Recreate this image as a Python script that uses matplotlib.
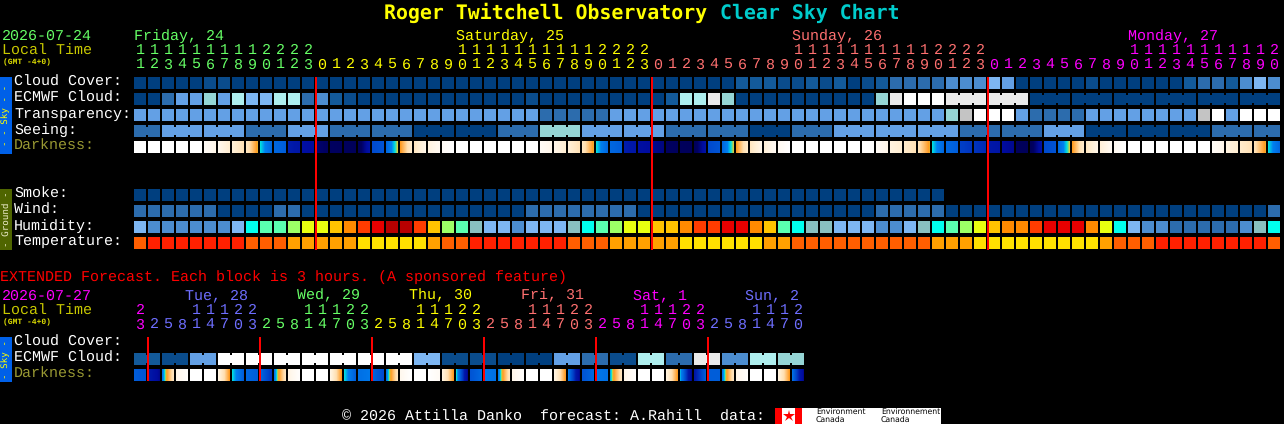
import numpy as np
import matplotlib
matplotlib.use("Agg")
import matplotlib.pyplot as plt
from matplotlib.colors import LinearSegmentedColormap

plt.rcParams['text.hinting'] = 'none'

# Colour tables (index = level stored in the rows below)
cloud_colors = ['#003f7f', '#0a4c8c', '#135a9a', '#2c6cad', '#4c8dd0', '#63a0e5',
                '#7db6f2', '#95d5d5', '#aeeeee', '#eaeaea', '#ffffff', '#c4c4c4']
humidity_colors = ['#2c6cad', '#4c8dd0', '#7db6f2', '#88c0c0', '#00ffee', '#5affb0',
                   '#9cff66', '#e8ff10', '#ffc400', '#ff8a00', '#ff3c00', '#e80000', '#b80000']
temp_colors = ['#ff2000', '#ff5e00', '#ffa000', '#ffe000']
dark_anchors = [(0.00, '#ffffff'), (0.10, '#fff8ee'), (0.20, '#ffeed2'), (0.30, '#ffdfb0'),
                (0.44, '#ff9a20'), (0.47, '#d0d040'), (0.50, '#00e0e0'), (0.54, '#0080f0'),
                (0.60, '#0068e0'), (0.68, '#0040c8'), (0.75, '#0018a8'), (0.82, '#000ca0'),
                (0.90, '#000060'), (1.00, '#000050')]

# Main forecast, one value per hour (82 hours)
hours = [11, 12, 13, 14, 15, 16, 17, 18, 19, 20, 21, 22, 23,
         0, 1, 2, 3, 4, 5, 6, 7, 8, 9, 10, 11, 12, 13, 14, 15, 16, 17, 18, 19, 20, 21, 22, 23,
         0, 1, 2, 3, 4, 5, 6, 7, 8, 9, 10, 11, 12, 13, 14, 15, 16, 17, 18, 19, 20, 21, 22, 23,
         0, 1, 2, 3, 4, 5, 6, 7, 8, 9, 10, 11, 12, 13, 14, 15, 16, 17, 18, 19, 20]
day_names = ['Friday, 24', 'Saturday, 25', 'Sunday, 26', 'Monday, 27']
day_cols = [0, 23, 47, 71]
day_colors = ['#66ff66', '#ffff00', '#ff7070', '#ff00ff']
midnights = [13, 37, 61]

cloud = [0, 0, 0, 0, 0, 1, 1, 0, 0, 0, 0, 0, 0, 0, 0, 0, 0, 0, 0, 0, 0,
         0, 0, 0, 0, 0, 0, 0, 0, 0, 0, 0, 0, 0, 0, 0, 0, 0, 0, 0, 0, 0, 0,
         2, 2, 2, 1, 1, 2, 1, 2, 0, 1, 2, 3, 3, 3, 3, 4, 4, 4, 6, 5,
         0, 0, 0, 0, 0, 1, 0, 0, 0, 0, 0, 0, 2, 3, 3, 2, 4, 6, 4]
ecmwf = [0, 0, 3, 5, 5, 7, 5, 8, 6, 6, 8, 8, 3, 4, 2, 1, 0, 0, 0, 0, 0,
         0, 0, 0, 0, 0, 0, 0, 1, 0, 0, 0, 0, 0, 0, 0, 0, 0, 2, 8, 8, 9, 7,
         0, 0, 0, 0, 0, 0, 0, 0, 0, 0, 7, 9, 10, 10, 10,
         9, 9, 0, 0, 0, 0, 0, 0]
ecmwf_sizes = [1] * 58 + [3] * 8
transparency = [5] * 29 + [3, 3, 3, 3, 3] + [5] * 24 + [7, 11, 10, 10, 10, 5, 3, 3, 3, 3] + \
               [5] * 8 + [11, 10, 5, 10, 10, 10]
seeing = [3, 5, 5, 3, 5, 3, 3, 0, 0, 3, 7, 5, 5, 3, 3, 0, 3, 5, 5, 5, 3, 3, 5, 0, 0, 0, 3, 3]
seeing_sizes = [2] + [3] * 26 + [2]
dark_left = [0, 0, 0, 0, 0, .05, .10, .18, .25, .50, .60, .74, .80, .88, .90, .92, .94, .66, .60, .44, .25,
             .15, .05, 0, 0, 0, 0, 0, 0, .05, .12, .18, .25, .50, .60, .74, .80, .84, .90, .92, .94, .66, .60,
             .44, .25, .18, .08, 0, 0, 0, 0, 0, 0, .05, .15, .22, .28, .50, .60, .68, .70, .75, .82, .92, .94,
             .66, .60, .44, .25, .18, .08, 0, 0, 0, 0, 0, 0, .05, .15, .22, .28, .50]
dark_right = [0, 0, 0, 0, 0, .12, .20, .28, .45, .60, .62, .76, .82, .90, .92, .94, .78, .64, .47, .22, .12,
              .08, 0, 0, 0, 0, 0, 0, 0, .12, .20, .28, .45, .60, .62, .76, .82, .86, .92, .94, .78, .64, .47,
              .22, .12, .08, 0, 0, 0, 0, 0, 0, 0, .12, .20, .28, .45, .60, .62, .70, .72, .77, .84, .94, .78,
              .64, .47, .22, .12, .08, 0, 0, 0, 0, 0, 0, 0, .12, .20, .28, .45, .60]
smoke = [0] * 58
wind = [3, 3, 3, 3, 3, 3, 0, 0, 0, 0, 3, 3, 0, 0, 0, 0, 0, 0, 0, 0, 0,
        0, 0, 0, 0, 0, 0, 0, 3, 3, 3, 3, 3, 3, 3, 3, 0, 0, 0, 0, 0, 0, 0, 0, 0, 0, 0, 0, 0, 0, 0,
        0, 0, 3, 3, 3, 3, 3, 0, 0, 0, 0, 0, 0, 0, 0, 0, 0, 0, 0, 0, 0, 0, 0, 0, 0, 0, 0, 0, 0, 0, 3]
humidity = [2, 1, 1, 1, 1, 1, 1, 2, 4, 5, 5, 6, 7, 7, 8, 9, 10, 11, 12, 12, 10,
            8, 6, 5, 3, 2, 2, 1, 2, 2, 2, 3, 4, 5, 6, 7, 7, 8, 8, 9, 10, 10, 11, 11, 9, 8, 5, 4, 3, 3, 2,
            2, 2, 1, 1, 2, 3, 4, 5, 6, 7, 8, 9, 9, 10, 11, 11, 11, 9, 7, 4, 2, 1, 1, 0, 0, 0, 0, 0, 1, 3, 4]
temperature = [1, 0, 0, 0, 0, 0, 0, 0, 1, 1, 1, 2, 2, 2, 2, 2, 3, 3, 3, 3, 3,
               2, 1, 1, 0, 0, 0, 0, 0, 0, 0, 1, 1, 1, 2, 2, 2, 2, 2, 3, 3, 3, 3, 3, 3, 2, 2, 1, 1, 1, 1,
               1, 1, 1, 1, 1, 1, 2, 2, 2, 3, 3, 3, 3, 3, 3, 3, 3, 3, 2, 1, 1, 1, 0, 0, 0, 0, 0, 0, 0, 0, 1]

# Extended forecast, one column per 3 hours (48 columns, blocks of 2)
ext_hours = [23, 2, 5, 8, 11, 14, 17, 20, 23, 2, 5, 8, 11, 14, 17, 20, 23, 2, 5, 8, 11, 14, 17, 20,
             23, 2, 5, 8, 11, 14, 17, 20, 23, 2, 5, 8, 11, 14, 17, 20, 23, 2, 5, 8, 11, 14, 17, 20]
ext_day_names = ['Tue, 28', 'Wed, 29', 'Thu, 30', 'Fri, 31', 'Sat, 1', 'Sun, 2']
ext_day_cols = [4, 12, 20, 28, 36, 44]
ext_day_colors = ['#6e6eff', '#66ff66', '#ffff00', '#ff7070', '#ff00ff', '#6e6eff']
ext_midnights = [1, 9, 17, 25, 33, 41]
ext_ecmwf = [2, 1, 5, 10, 10, 10, 10, 10, 10, 10, 6, 1, 1, 0, 0, 5, 3, 1, 8, 3, 9, 4, 8, 7]
ext_sizes = [2] * 24
ext_dark_left = [.62, .74, .56, .12, 0, 0, .14, .50, .60, .60, .56, .14, 0, 0, .14, .50, .58, .60, .56, .10,
                 0, 0, .16, .50, .64, .56, .56, .12, 0, 0, .14, .56, .64, .56, .52, .12, 0, 0, .16, .52,
                 .76, .62, .56, .12, 0, 0, .16, .58]
ext_dark_right = [.64, .84, .26, .02, 0, 0, .44, .62, .62, .70, .26, .02, 0, 0, .44, .62, .56, .66, .26, 0,
                  0, .06, .44, .84, .60, .58, .26, .02, 0, 0, .44, .84, .60, .58, .26, .02, 0, 0, .44, .84,
                  .62, .62, .26, .02, 0, 0, .44, .84]

# Pixel layout of the picture
X0, PITCH, CELL = 134, 14, 12
LINK_H = 8
MONO = 'Liberation Mono'
TITLE_FONT = 'DejaVu Sans Mono'
FS = 10.8

fig = plt.figure(figsize=(12.84, 4.24), dpi=100, facecolor='black')
ax = fig.add_axes([0, 0, 1, 1])
ax.set_xlim(0, 1284)
ax.set_ylim(424, 0)
ax.axis('off')
dark_cmap = LinearSegmentedColormap.from_list('darkness', dark_anchors, N=512)


def left(col):
    return X0 + PITCH * col


def label(x, y, s, color='white', size=FS, **kw):
    # y is the middle of the capitals, text sits on its baseline
    kw.setdefault('family', MONO)
    ax.text(x, y + 4.5, s, color=color, fontsize=size, va='baseline', ha=kw.pop('ha', 'left'), **kw)


def cell(x, y, w, h, color, z=2):
    ax.bar(x, h, w, bottom=y, align='edge', color=color, linewidth=0, antialiased=False, zorder=z)


def draw_blocks(y, values, sizes, colors):
    # a block spans several columns, its cells joined by a narrower bridge
    col = 0
    for value, size in zip(values, sizes):
        for i in range(size):
            cell(left(col + i), y, CELL, CELL, colors[value])
            if i < size - 1:
                cell(left(col + i) + CELL, y + (CELL - LINK_H) / 2, PITCH - CELL, LINK_H, colors[value])
        col += size


def draw_row(y, values, colors):
    draw_blocks(y, values, [1] * len(values), colors)


def draw_darkness(y, lefts, rights):
    for col, (a, b) in enumerate(zip(lefts, rights)):
        shade = np.linspace(a, b, CELL).reshape(1, -1)
        ax.imshow(shade, cmap=dark_cmap, vmin=0, vmax=1, aspect='auto', interpolation='nearest',
                  extent=(left(col), left(col) + CELL, y + CELL, y), zorder=2)


def draw_hours(y_tens, y_ones, hour_list, col_colors):
    for col, hour in enumerate(hour_list):
        if hour >= 10:
            label(left(col) + CELL / 2, y_tens, str(hour // 10), col_colors[col], ha='center')
        label(left(col) + CELL / 2, y_ones, str(hour % 10), col_colors[col], ha='center')


def side_bar(y0, y1, color, text, text_color):
    cell(0, y0, 12, y1 - y0, color)
    ax.text(6, (y0 + y1) / 2, text, color=text_color, fontsize=6.7, family=TITLE_FONT, rotation=90,
            ha='center', va='center', zorder=3)


def red_lines(cols, y0, y1):
    for c in cols:
        cell(left(c) - 1, y0, 2, y1 - y0, '#ff0000', z=4)


# Title
label(384, 14, 'Roger Twitchell Observatory', '#ffff00', 14.35, weight='bold', family=TITLE_FONT)
label(720, 14, 'Clear Sky Chart', '#00cccc', 14.35, weight='bold', family=TITLE_FONT)

# Main chart header
label(2, 35, '2026-07-24', '#66ff66')
label(2, 50, 'Local Time', '#c8c800')
label(3, 60, '(GMT -4+0)', '#dddd00', 5.8, weight='bold')
for name, col, color in zip(day_names, day_cols, day_colors):
    label(left(col), 35, name, color)
main_colors = [day_colors[0]] * 13 + [day_colors[1]] * 24 + [day_colors[2]] * 24 + [day_colors[3]] * 21
draw_hours(50, 64, hours, main_colors)

# Main chart rows
sky_labels = ['Cloud Cover:', 'ECMWF Cloud:', 'Transparency:', 'Seeing:', 'Darkness:']
for i, s in enumerate(sky_labels):
    label(14, 81 + 16 * i, s, '#999933' if s == 'Darkness:' else 'white')
draw_row(77, cloud, cloud_colors)
draw_blocks(93, ecmwf, ecmwf_sizes, cloud_colors)
draw_row(109, transparency, cloud_colors)
draw_blocks(125, seeing, seeing_sizes, cloud_colors)
draw_darkness(141, dark_left, dark_right)

ground_labels = ['Smoke:', 'Wind:', 'Humidity:', 'Temperature:']
for i, s in enumerate(ground_labels):
    label(14, 193 + 16 * i, s)
draw_row(189, smoke, cloud_colors)
draw_row(205, wind, cloud_colors)
draw_row(221, humidity, humidity_colors)
draw_row(237, temperature, temp_colors)

side_bar(77, 154, '#0060e8', '- - Sky - -', '#ffff00')
side_bar(189, 250, '#4f6500', '- Ground -', '#eeeecc')
red_lines(midnights, 77, 250)

# Extended forecast
label(0, 276, 'EXTENDED Forecast. Each block is 3 hours. (A sponsored feature)', '#ff0000')
label(2, 295, '2026-07-27', '#ff00ff')
label(2, 310, 'Local Time', '#c8c800')
label(3, 320, '(GMT -4+0)', '#dddd00', 5.8, weight='bold')
for name, col, color in zip(ext_day_names, ext_day_cols, ext_day_colors):
    label(left(col) - 5, 295, name, color)
ext_colors = ['#ff00ff'] + ['#6e6eff'] * 8 + ['#66ff66'] * 8 + ['#ffff00'] * 8 + ['#ff7070'] * 8 + \
             ['#ff00ff'] * 8 + ['#6e6eff'] * 7
draw_hours(310, 324, ext_hours, ext_colors)
for i, s in enumerate(['Cloud Cover:', 'ECMWF Cloud:', 'Darkness:']):
    label(14, 341 + 16 * i, s, '#999933' if s == 'Darkness:' else 'white')
draw_blocks(353, ext_ecmwf, ext_sizes, cloud_colors)
draw_darkness(369, ext_dark_left, ext_dark_right)
side_bar(337, 382, '#0060e8', '- Sky -', '#ffff00')
red_lines(ext_midnights, 337, 381)

# Footer with the data credit logo
label(342, 416, '\u00a9 2026 Attilla Danko  forecast: A.Rahill  data:')
cell(775, 408, 166, 16, '#ffffff')
cell(775, 408, 7, 16, '#ff0000')
cell(795, 408, 7, 16, '#ff0000')
ax.plot([788.5], [416], marker='*', ms=9, color='#ff0000', mew=0, zorder=3)
for x, word in [(816, 'Environment'), (881, 'Environnement')]:
    ax.text(x, 412, word, color='black', fontsize=5.6, va='center', zorder=3)
    ax.text(x, 420, 'Canada', color='black', fontsize=5.6, va='center', zorder=3)

ax.set_xlim(0, 1284)
ax.set_ylim(424, 0)
fig.savefig('out.png', dpi=100, facecolor='black')
